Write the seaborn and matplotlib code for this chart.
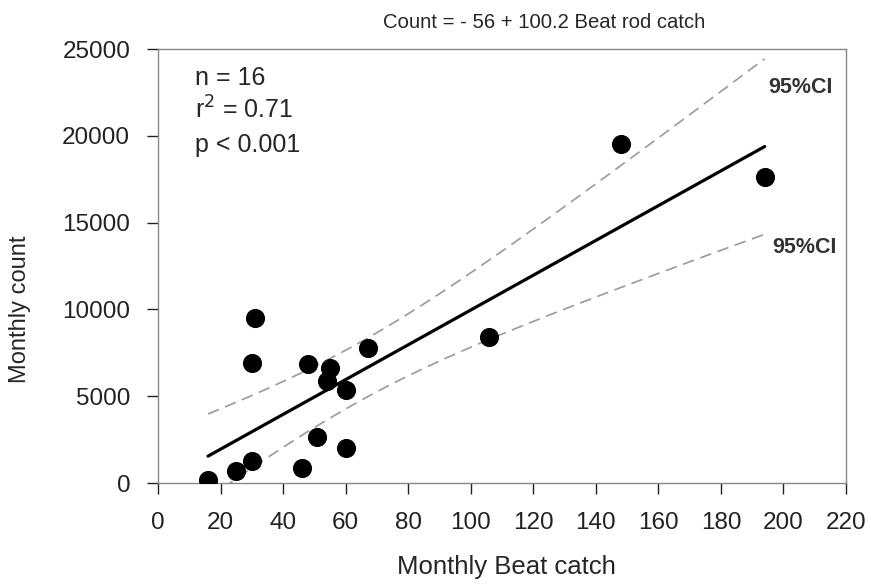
import numpy as np
import pandas as pd
import matplotlib
matplotlib.use("Agg")
import matplotlib.pyplot as plt
import seaborn as sns

beat_catch = [16, 25, 30, 30, 31, 46, 48, 51, 54, 55, 60, 60, 67, 106, 148, 194]
monthly_count = [200, 700, 1250, 6900, 9500, 850, 6850, 2650, 5900, 6650, 5350, 2000, 7750, 8400, 19550, 17650]
x_ticks = [0, 20, 40, 60, 80, 100, 120, 140, 160, 180, 200, 220]
y_ticks = [0, 5000, 10000, 15000, 20000, 25000]
intercept = -56
slope = 100.2

sns.set_theme(style="ticks")
plt.rcParams['font.family'] = ['Liberation Sans', 'DejaVu Sans']

df = pd.DataFrame({"x": beat_catch, "y": monthly_count})

fig = plt.figure(figsize=(8.71, 5.84), dpi=100)
ax = fig.add_axes([158/871, 1-483/584, (846-158)/871, (483-49)/584])

sns.scatterplot(data=df, x="x", y="y", ax=ax, s=190, color="black",
                edgecolor="black", linewidth=0, zorder=3, legend=False)

x = np.asarray(beat_catch, float)
y = np.asarray(monthly_count, float)
n = len(x)
xs = np.linspace(x.min(), x.max(), 200)
yhat = intercept + slope * xs
resid = y - (intercept + slope * x)
s = np.sqrt(np.sum(resid**2) / (n - 2))
sxx = np.sum((x - x.mean())**2)
t = 2.145
half = t * s * np.sqrt(1/n + (xs - x.mean())**2 / sxx)

sns.lineplot(x=xs, y=yhat, ax=ax, color="black", linewidth=2.3, zorder=2)
ax.plot(xs, yhat + half, color="#9a9a9a", linewidth=1.2, dashes=(7, 4), zorder=1)
ax.plot(xs, yhat - half, color="#9a9a9a", linewidth=1.2, dashes=(7, 4), zorder=1)

ax.set_xlim(0, 220)
ax.set_ylim(0, 25000)
ax.set_xticks(x_ticks)
ax.set_yticks(y_ticks)
ax.tick_params(labelsize=17.5, length=8, width=1, colors="#222222", direction="out", pad=12)
ax.tick_params(axis="x", pad=13)
for sp in ax.spines.values():
    sp.set_color("#888888")
    sp.set_linewidth(1)
ax.set_xlabel("Monthly Beat catch", fontsize=18.5)
ax.set_ylabel("Monthly count", fontsize=17)
ax.xaxis.set_label_coords(0.506, -0.166)
ax.yaxis.set_label_coords(-0.185, 0.40)
fig.text(544/871, 1-28/584, "Count = - 56 + 100.2 Beat rod catch", fontsize=14.6,
         ha="center", va="baseline")

ax.text(0.054, 0.917, "n = 16", transform=ax.transAxes, fontsize=18, va="baseline")
ax.text(0.054, 0.840, "r$^2$ = 0.71", transform=ax.transAxes, fontsize=18, va="baseline")
ax.text(0.054, 0.763, "p < 0.001", transform=ax.transAxes, fontsize=18, va="baseline")
ax.text(195, 22465, "95%CI", fontsize=15.5, fontweight="bold",
        color="#333333", ha="left", va="baseline")
ax.text(196.3, 13249, "95%CI", fontsize=15.5, fontweight="bold",
        color="#333333", ha="left", va="baseline")

fig.savefig("out.png", dpi=100)
